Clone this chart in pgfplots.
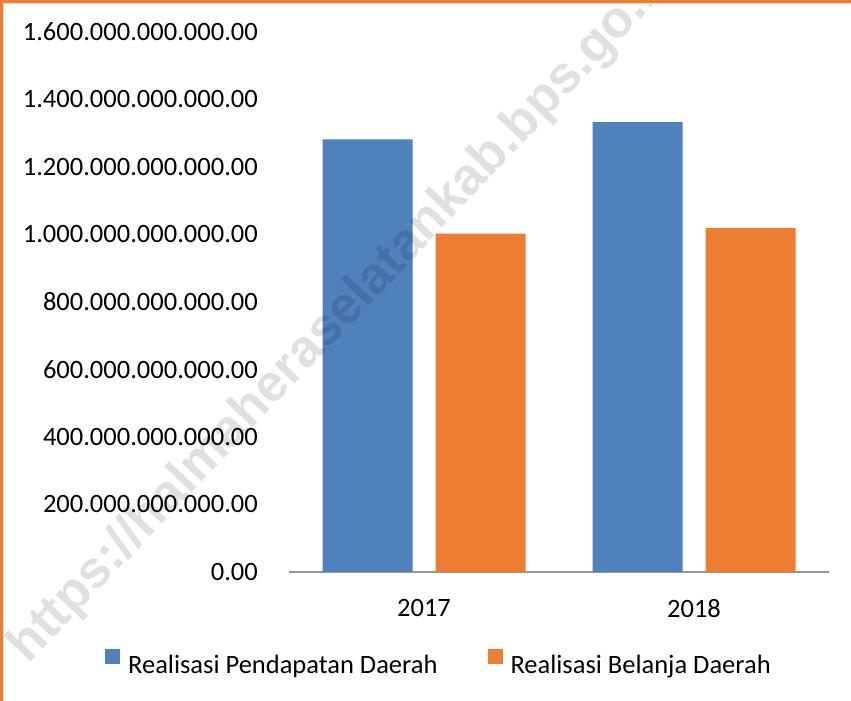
\documentclass[border=0pt]{standalone}
\usepackage{pgfplots}
\pgfplotsset{compat=1.18}
\usepackage{fontspec}
\setmainfont{Carlito}
\newfontfamily\wmfont{Liberation Sans}
\definecolor{cblue}{HTML}{4F81BD}
\definecolor{corange}{HTML}{ED7D31}
\definecolor{axgray}{RGB}{150,150,150}
\begin{document}
\begin{tikzpicture}
\useasboundingbox (0,0) rectangle (851pt,701pt);
\clip (0,0) rectangle (851pt,701pt);
\fill[white] (0,0) rectangle (851pt,701pt);
\begin{axis}[
  at={(289pt,129pt)}, anchor=south west,
  scale only axis, width=540pt, height=540pt,
  ybar=23pt, bar width=90pt,
  xmin=-0.5, xmax=1.5, ymin=0, ymax=1.6e12,
  axis x line*=bottom, axis y line*=left,
  axis line style={-},
  y axis line style={draw=none},
  x axis line style={draw=axgray, line width=1.3pt},
  major tick length=0pt,
  scaled y ticks=false,
  xtick={0,1}, xticklabels={2017,2018},
  ytick={0,2e11,4e11,6e11,8e11,1e12,1.2e12,1.4e12,1.6e12},
  yticklabels={0.00,200.000.000.000.00,400.000.000.000.00,600.000.000.000.00,800.000.000.000.00,1.000.000.000.000.00,1.200.000.000.000.00,1.400.000.000.000.00,1.600.000.000.000.00},
  tick label style={font=\fontsize{26.5}{30}\selectfont, inner sep=0pt},
  yticklabel style={anchor=east, xshift=-31pt},
  xticklabel style={anchor=north, yshift=-27pt},
  legend style={at={(axis description cs:0.2759,-0.1667)}, anchor=center, draw=none, fill=none,
    legend columns=2, inner sep=0pt, font=\fontsize{26.5}{30}\selectfont,
    nodes={inner sep=0pt},
    /tikz/every odd column/.append style={column sep=8pt},
    /tikz/every even column/.append style={column sep=50pt}},
  legend image code/.code={\fill[#1,draw=none] (0pt,1pt) rectangle (15pt,16pt);},
]
\addplot[fill=cblue, draw=none] coordinates {(0,1.282e12) (1,1.333e12)};
\addplot[fill=corange, draw=none] coordinates {(0,1.0024e12) (1,1.019e12)};
\legend{Realisasi Pendapatan Daerah,Realisasi Belanja Daerah}
\end{axis}
\node[rotate=46.5, anchor=base west, inner sep=0pt, font=\wmfont\bfseries\fontsize{52}{58}\selectfont, text=black, opacity=0.12] at (28pt,36pt) {https://halmaheraselatankab.bps.go.id};
\fill[corange] (0,0) rectangle (3pt,701pt);
\fill[corange] (0,698pt) rectangle (851pt,701pt);
\draw[black!15, line width=0.8pt] (3.4pt,0) -- (3.4pt,697.6pt) -- (851pt,697.6pt);
\end{tikzpicture}
\end{document}
